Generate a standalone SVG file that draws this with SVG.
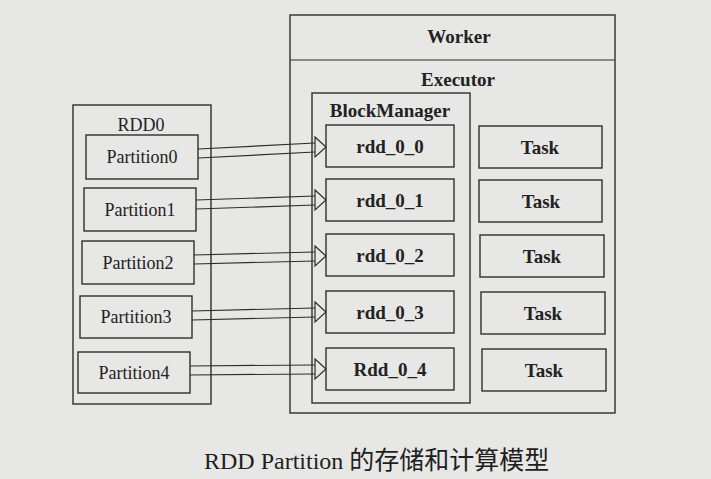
<svg xmlns="http://www.w3.org/2000/svg" width="711" height="479" viewBox="0 0 711 479">
<style>
.box{fill:none;stroke:#2e2e2e;stroke-width:1.4}
.lbl{font-family:"Liberation Serif",serif;font-size:19px;fill:#222;text-anchor:middle;font-weight:bold}
.plbl{font-family:"Liberation Serif",serif;font-size:18px;fill:#222;text-anchor:middle}
.ln{stroke:#2e2e2e;stroke-width:1.2;fill:none}
.tri{fill:#e7e7e5;stroke:#2e2e2e;stroke-width:1.2}
.cap{font-family:"Liberation Serif","Noto Sans CJK SC",serif;font-size:24px;fill:#1e1e1e}
.cjk{font-family:"Noto Sans CJK SC",sans-serif;font-size:25px}
</style>
<rect width="711" height="479" fill="#e7e7e5"/>
<g id="worker">
<rect class="box" x="290" y="15" width="325" height="398"/>
<line class="ln" x1="290" y1="60" x2="615" y2="60"/>
<text class="lbl" x="459" y="43">Worker</text>
</g>
<g id="executor">
<text class="lbl" x="458" y="86">Executor</text>
</g>
<g id="blockmanager">
<rect class="box" x="312" y="93" width="158" height="310"/>
<text class="lbl" x="390" y="117">BlockManager</text>
</g>
<g id="rdd0">
<rect class="box" x="73" y="105" width="138" height="299"/>
<text class="plbl" x="141" y="131">RDD0</text>
</g>
<g id="partition0"><rect class="box" x="86" y="135" width="112" height="44"/><text class="plbl" x="142" y="163">Partition0</text></g>
<g id="partition1"><rect class="box" x="84" y="188" width="112" height="43"/><text class="plbl" x="140" y="216">Partition1</text></g>
<g id="partition2"><rect class="box" x="82" y="241" width="112" height="43"/><text class="plbl" x="138" y="269">Partition2</text></g>
<g id="partition3"><rect class="box" x="80" y="296" width="112" height="42"/><text class="plbl" x="136" y="323">Partition3</text></g>
<g id="partition4"><rect class="box" x="78" y="352" width="112" height="41"/><text class="plbl" x="134" y="379">Partition4</text></g>
<g id="rdd_0_0"><rect class="box" x="326" y="125" width="128" height="42"/><text class="lbl" x="390" y="153">rdd_0_0</text></g>
<g id="rdd_0_1"><rect class="box" x="326" y="179" width="128" height="42"/><text class="lbl" x="390" y="207">rdd_0_1</text></g>
<g id="rdd_0_2"><rect class="box" x="326" y="234" width="128" height="42"/><text class="lbl" x="390" y="262">rdd_0_2</text></g>
<g id="rdd_0_3"><rect class="box" x="326" y="291" width="128" height="42"/><text class="lbl" x="390" y="319">rdd_0_3</text></g>
<g id="rdd_0_4"><rect class="box" x="326" y="348" width="128" height="42"/><text class="lbl" x="390" y="376">Rdd_0_4</text></g>
<g id="task0"><rect class="box" x="479" y="126" width="123" height="42"/><text class="lbl" x="540" y="154">Task</text></g>
<g id="task1"><rect class="box" x="479" y="180" width="123" height="42"/><text class="lbl" x="541" y="208">Task</text></g>
<g id="task2"><rect class="box" x="480" y="235" width="124" height="42"/><text class="lbl" x="542" y="263">Task</text></g>
<g id="task3"><rect class="box" x="481" y="292" width="124" height="42"/><text class="lbl" x="543" y="320">Task</text></g>
<g id="task4"><rect class="box" x="482" y="349" width="124" height="42"/><text class="lbl" x="544" y="377">Task</text></g>
<g id="connectors">
<line class="ln" x1="198" y1="149" x2="315" y2="143"/><line class="ln" x1="198" y1="158" x2="315" y2="152"/><polygon class="tri" points="315,137 326,147 315,157"/>
<line class="ln" x1="196" y1="200" x2="315" y2="196"/><line class="ln" x1="196" y1="209" x2="315" y2="205"/><polygon class="tri" points="315,190 326,200 315,210"/>
<line class="ln" x1="194" y1="255" x2="315" y2="252"/><line class="ln" x1="194" y1="264" x2="315" y2="261"/><polygon class="tri" points="315,246 326,256 315,266"/>
<line class="ln" x1="192" y1="311" x2="315" y2="308"/><line class="ln" x1="192" y1="320" x2="315" y2="317"/><polygon class="tri" points="315,302 326,312 315,322"/>
<line class="ln" x1="190" y1="366" x2="315" y2="365"/><line class="ln" x1="190" y1="375" x2="315" y2="374"/><polygon class="tri" points="315,359 326,369 315,379"/>
</g>
<text class="cap" x="204" y="469">RDD Partition <tspan class="cjk">的存储和计算模型</tspan></text>
</svg>
